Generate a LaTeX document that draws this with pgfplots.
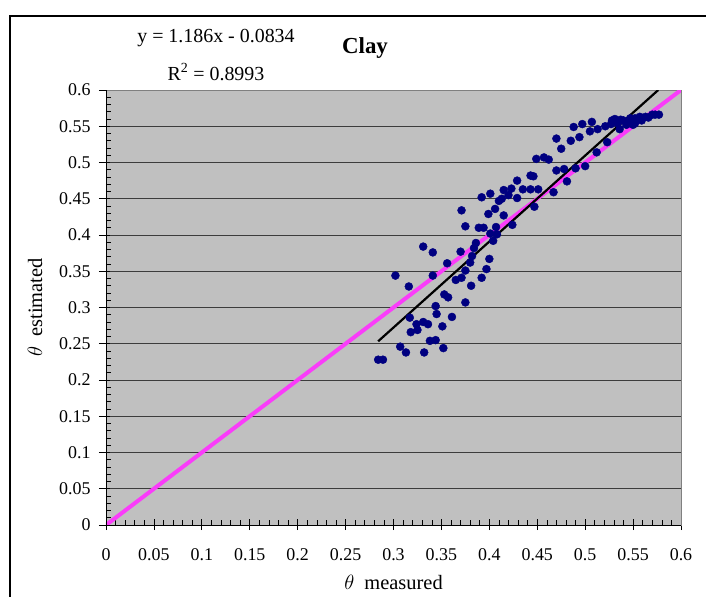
\documentclass[border=0pt]{standalone}
\usepackage{pgfplots}
\pgfplotsset{compat=1.18}
\usepackage{fontspec}
\setmainfont{Liberation Serif}
\definecolor{plotbg}{RGB}{192,192,192}
\definecolor{navyd}{RGB}{0,0,128}
\definecolor{magl}{RGB}{250,60,250}
\definecolor{gridc}{RGB}{60,60,60}
\begin{document}
\begin{tikzpicture}
\path[use as bounding box] (-106bp,-72bp) rectangle (600bp,525bp);
\draw[line width=1.2bp] (-96bp,-80bp) -- (-96bp,509bp) -- (610bp,509bp);
\begin{axis}[
  at={(0,0)}, anchor=south west,
  scale only axis, width=575bp, height=435bp,
  xmin=0, xmax=0.6, ymin=0, ymax=0.6,
  xtick distance=0.05, ytick distance=0.05,
  minor x tick num=4, minor y tick num=4,
  xtick pos=left, ytick pos=left,
  tick align=inside,
  major tick length=11bp, minor tick length=5bp,
  major x tick style={yshift=-5bp, black, line width=0.8bp},
  major y tick style={xshift=-7bp, black, line width=0.8bp},
  minor tick style={black, line width=0.6bp},
  ymajorgrids, major grid style={gridc, line width=0.8bp},
  axis line style={draw=gray},
  axis background/.style={fill=plotbg},
  /pgf/number format/assume math mode=true,
  /pgf/number format/fixed,
  /pgf/number format/precision=2,
  ticklabel style={font=\fontsize{18}{20}\selectfont},
  xticklabel style={yshift=-20bp},
  yticklabel style={xshift=-12bp},
  xlabel={$\theta$\ \ measured}, ylabel={$\theta$\ \ estimated},
  label style={font=\fontsize{20.5}{22}\selectfont},
  xlabel style={at={(axis description cs:0.5,-0.131)}, anchor=center},
  ylabel style={at={(axis description cs:-0.1235,0.5)}, anchor=center, rotate=0},
  clip=true,
]
\addplot[only marks, mark=*, mark size=4bp, navyd, mark options={draw=navyd, fill=navyd}] coordinates {
(0.284,0.228) (0.289,0.228) (0.302,0.344) (0.307,0.246) (0.313,0.238)
(0.316,0.329) (0.317,0.286) (0.318,0.266) (0.324,0.277) (0.325,0.269)
(0.331,0.280) (0.336,0.277) (0.332,0.238) (0.331,0.384) (0.341,0.376)
(0.341,0.344) (0.338,0.254) (0.344,0.255) (0.344,0.302) (0.345,0.291)
(0.351,0.274) (0.352,0.244) (0.353,0.318) (0.357,0.314) (0.356,0.361)
(0.361,0.287) (0.365,0.338) (0.370,0.377) (0.371,0.434) (0.371,0.341)
(0.375,0.412) (0.375,0.351) (0.375,0.307) (0.380,0.362) (0.381,0.330)
(0.382,0.371) (0.384,0.382) (0.386,0.389) (0.389,0.410) (0.394,0.410)
(0.392,0.341) (0.397,0.353) (0.400,0.367) (0.392,0.452) (0.401,0.457)
(0.399,0.429) (0.401,0.402) (0.404,0.392) (0.407,0.411) (0.408,0.401)
(0.406,0.436) (0.410,0.447) (0.413,0.450) (0.415,0.462) (0.415,0.427)
(0.420,0.455) (0.423,0.464) (0.424,0.414) (0.429,0.451) (0.429,0.475)
(0.435,0.463) (0.443,0.463) (0.451,0.463) (0.443,0.482) (0.446,0.481)
(0.447,0.439) (0.449,0.505) (0.457,0.507) (0.462,0.504) (0.467,0.459)
(0.470,0.489) (0.478,0.491) (0.481,0.474) (0.490,0.492) (0.500,0.495)
(0.470,0.533) (0.475,0.519) (0.485,0.530) (0.494,0.535) (0.488,0.549)
(0.497,0.553) (0.507,0.556) (0.505,0.543) (0.513,0.546) (0.521,0.550)
(0.523,0.528) (0.512,0.514) (0.528,0.558) (0.527,0.553) (0.534,0.554)
(0.536,0.546) (0.540,0.558) (0.544,0.555) (0.549,0.558) (0.552,0.554)
(0.556,0.560) (0.559,0.558) (0.563,0.563) (0.566,0.562) (0.570,0.566)
(0.573,0.566) (0.577,0.566) (0.547,0.561) (0.552,0.561) (0.557,0.563)
(0.537,0.559) (0.531,0.560) (0.543,0.552) (0.550,0.552)
};
\addplot[magl, line width=4bp] coordinates {(0,0) (0.6,0.6)};
\addplot[black, line width=2.2bp] coordinates {(0.284,0.2534) (0.5763,0.6)};
\end{axis}
\draw[black, line width=1bp] (0,0) -- (0,435bp);
\draw[black, line width=1bp] (0,0) -- (575bp,0);
\node[font=\bfseries\fontsize{23}{25}\selectfont] at (259bp,477bp) {Clay};
\node[font=\fontsize{20}{22}\selectfont] at (110bp,487bp) {y = 1.186x - 0.0834};
\node[font=\fontsize{20}{22}\selectfont] at (110bp,453bp) {R\textsuperscript{2} = 0.8993};
\end{tikzpicture}
\end{document}
